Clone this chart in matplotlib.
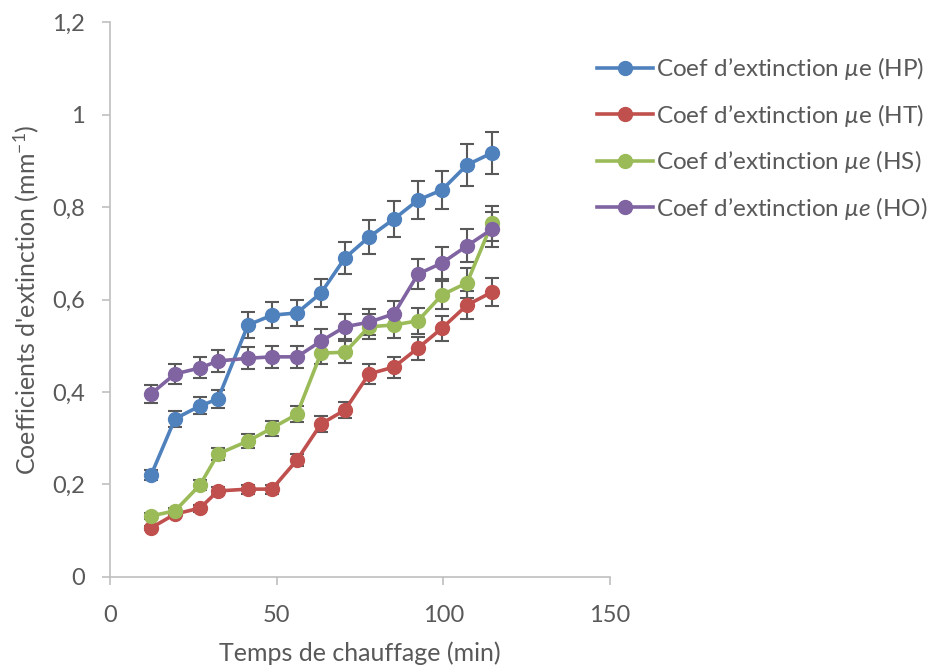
import matplotlib
matplotlib.use('Agg')
import numpy as np
import matplotlib.pyplot as plt
from matplotlib.ticker import FuncFormatter

# Data
temps = [12.3, 19.5, 27, 32.4, 41.4, 48.6, 56.1, 63.3, 70.5, 77.7, 85.2, 92.4, 99.6, 107.1, 114.6]
hp = [0.22, 0.342, 0.37, 0.385, 0.545, 0.566, 0.571, 0.614, 0.69, 0.735, 0.774, 0.815, 0.837, 0.891, 0.917]
ht = [0.106, 0.136, 0.149, 0.186, 0.19, 0.19, 0.253, 0.331, 0.361, 0.439, 0.454, 0.495, 0.538, 0.588, 0.616]
hs = [0.132, 0.143, 0.199, 0.266, 0.294, 0.322, 0.352, 0.484, 0.486, 0.541, 0.545, 0.554, 0.61, 0.636, 0.765]
ho = [0.396, 0.439, 0.452, 0.467, 0.473, 0.476, 0.476, 0.51, 0.541, 0.551, 0.569, 0.655, 0.679, 0.716, 0.752]
err_pct = 0.05

labels = [r'Coef d’extinction $\mu$e (HP)',
          r'Coef d’extinction $\mu$e (HT)',
          r'Coef d’extinction $\mu e$ (HS)',
          r'Coef d’extinction $\mu e$ (HO)']
colors = ['#4F81BD', '#C0504D', '#9BBB59', '#8064A2']

plt.rcParams['font.family'] = ['Lato', 'DejaVu Sans']
plt.rcParams['mathtext.fontset'] = 'custom'
plt.rcParams['mathtext.it'] = 'Lato:italic'
plt.rcParams['mathtext.rm'] = 'Lato'

fig = plt.figure(figsize=(9.49, 6.71), dpi=100)
ax = fig.add_axes([0.1159, 0.1401, 0.5269, 0.8271])

for y, lab, c in zip([hp, ht, hs, ho], labels, colors):
    y = np.array(y)
    ax.errorbar(temps, y, yerr=y * err_pct, fmt='none', ecolor='#595959',
                elinewidth=1.5, capsize=5, capthick=1.5, zorder=1)
    ax.plot(temps, y, color=c, lw=2.6, marker='o', markersize=10, label=lab, zorder=2)

ax.set_xlim(0, 150)
ax.set_ylim(0, 1.2)
ax.set_xticks([0, 50, 100, 150])
ax.set_yticks(np.arange(0, 1.21, 0.2))
ax.yaxis.set_major_formatter(FuncFormatter(lambda v, p: ('%g' % round(v, 2)).replace('.', ',')))

for s in ['top', 'right']:
    ax.spines[s].set_visible(False)
for s in ['left', 'bottom']:
    ax.spines[s].set_color('#BFBFBF')
    ax.spines[s].set_linewidth(1.2)
ax.tick_params(colors='#BFBFBF', labelcolor='#595959', labelsize=17, length=6, width=1.2)
ax.tick_params(axis='x', pad=14)
ax.tick_params(axis='y', pad=12)

ax.set_xlabel('Temps de chauffage (min)', fontsize=18, color='#595959', labelpad=11)
ax.set_ylabel(r"Coefficients d'extinction (mm$^{\mathregular{-1}}$)", fontsize=18, color='#595959', labelpad=8)

leg = fig.legend(loc='upper left', bbox_to_anchor=(0.606, 0.95), frameon=False,
                 fontsize=17.5, labelspacing=0.8, handlelength=2.3, handletextpad=0.12,
                 labelcolor='#595959')

fig.savefig('out.png', dpi=100)
